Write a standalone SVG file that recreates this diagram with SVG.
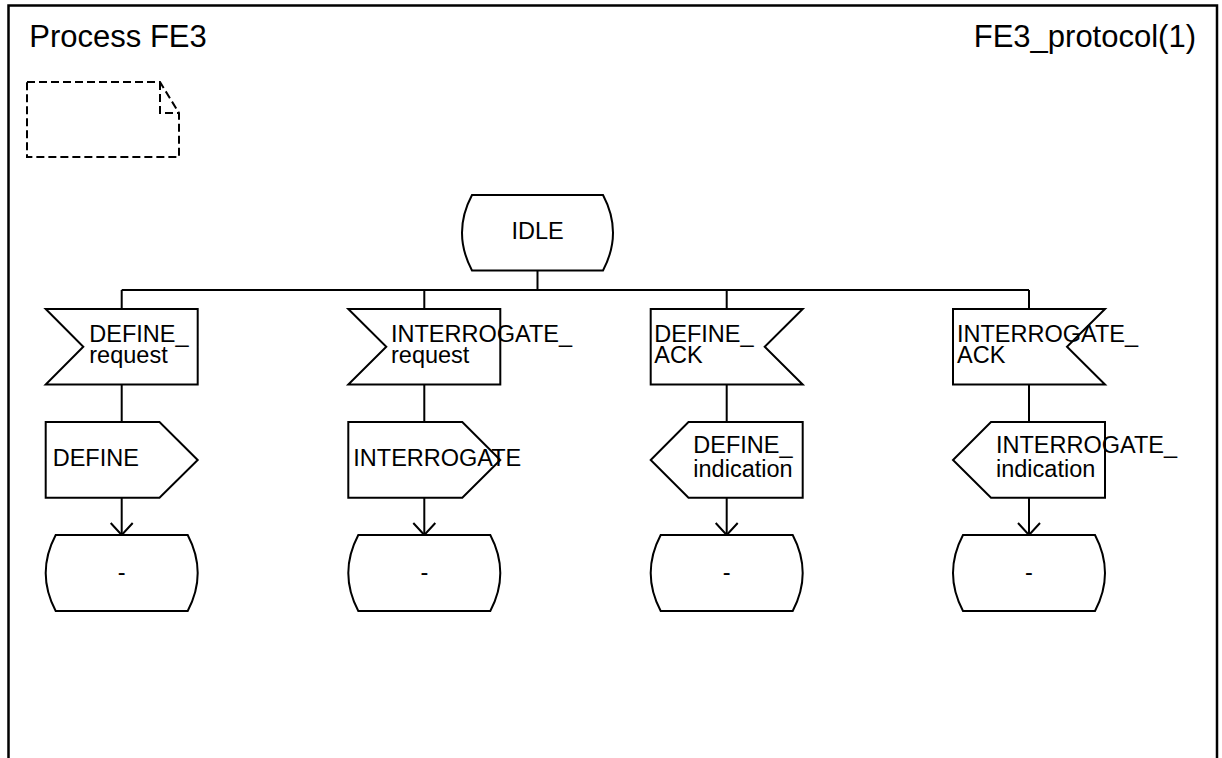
<svg xmlns="http://www.w3.org/2000/svg" width="1222" height="758" viewBox="0 0 1222 758">
<style>
  .shape { fill: #fff; stroke: #000; stroke-width: 2; stroke-linejoin: miter; }
  .line { fill: none; stroke: #000; stroke-width: 2; }
  .frame { fill: none; stroke: #000; stroke-width: 2.5; }
  .comment { fill: none; stroke: #000; stroke-width: 2; stroke-dasharray: 8 4; }
  text { font-family: "Liberation Sans", Arial, sans-serif; font-size: 23.5px; fill: #000; }
  .title { font-size: 31px; }
  .mid { text-anchor: middle; }
</style>
<defs>
  <marker id="arrow" markerWidth="30" markerHeight="30" refX="15" refY="15" markerUnits="userSpaceOnUse" orient="auto">
    <path d="M3,4 L15,15 L3,26" fill="none" stroke="#000" stroke-width="2"/>
  </marker>
</defs>
<rect x="0" y="0" width="1222" height="758" fill="#fff"/>

<g id="frame">
  <path class="frame" d="M8.5,760 V5.5 H1217 V760"/>
  <text class="title" x="29.3" y="46.7">Process FE3</text>
  <text class="title" x="1196" y="47" text-anchor="end">FE3_protocol(1)</text>
</g>

<g id="comment">
  <path class="comment" d="M27,82 H160 L179,113 V157 H27 Z"/>
  <path class="comment" d="M160,82 V113 H179"/>
</g>

<g id="connectors">
  <path class="line" d="M537.5,270.5 V290"/>
  <path class="line" d="M121.7,290 H1029"/>
  <path class="line" d="M121.7,290 V309 M121.7,384.5 V422"/>
  <path class="line" d="M424.3,290 V309 M424.3,384.5 V422"/>
  <path class="line" d="M726.7,290 V309 M726.7,384.5 V422"/>
  <path class="line" d="M1029,290 V309 M1029,384.5 V422"/>
  <path class="line" d="M121.7,497.7 V535" marker-end="url(#arrow)"/>
  <path class="line" d="M424.3,497.7 V535" marker-end="url(#arrow)"/>
  <path class="line" d="M726.7,497.7 V535" marker-end="url(#arrow)"/>
  <path class="line" d="M1029,497.7 V535" marker-end="url(#arrow)"/>
</g>

<g id="idle">
  <path class="shape" d="M472,195 H603 Q623,232.7 603,270.5 H472 Q452,232.7 472,195 Z"/>
  <text class="mid" x="537.5" y="238.5">IDLE</text>
</g>

<g id="in_define_request">
  <path class="shape" d="M45.7,309 H197.7 V384.5 H45.7 L83.3,346.7 Z"/>
  <text x="89.3" y="341.5">DEFINE_</text>
  <text x="89.3" y="362.5">request</text>
</g>
<g id="in_interrogate_request">
  <path class="shape" d="M348.3,309 H500.3 V384.5 H348.3 L386.3,346.7 Z"/>
  <text x="391" y="341.5">INTERROGATE_</text>
  <text x="391" y="362.5">request</text>
</g>
<g id="in_define_ack">
  <path class="shape" d="M650.7,309 H802.7 L764.7,346.7 L802.7,384.5 H650.7 Z"/>
  <text x="654.3" y="341.5">DEFINE_</text>
  <text x="654.3" y="362.5">ACK</text>
</g>
<g id="in_interrogate_ack">
  <path class="shape" d="M953,309 H1105 L1067,346.7 L1105,384.5 H953 Z"/>
  <text x="957" y="341.5">INTERROGATE_</text>
  <text x="957" y="362.5">ACK</text>
</g>

<g id="out_define">
  <path class="shape" d="M45.7,422 H159.5 L197.7,460 L159.5,497.7 H45.7 Z"/>
  <text x="52.7" y="466">DEFINE</text>
</g>
<g id="out_interrogate">
  <path class="shape" d="M348.3,422 H462.3 L500.3,460 L462.3,497.7 H348.3 Z"/>
  <text x="353.3" y="466">INTERROGATE</text>
</g>
<g id="out_define_indication">
  <path class="shape" d="M688.5,422 H802.7 V497.7 H688.5 L650.7,460 Z"/>
  <text x="693.3" y="452.7">DEFINE_</text>
  <text x="693.3" y="476.7">indication</text>
</g>
<g id="out_interrogate_indication">
  <path class="shape" d="M991,422 H1105 V497.7 H991 L953,460 Z"/>
  <text x="996" y="452.7">INTERROGATE_</text>
  <text x="996" y="476.7">indication</text>
</g>

<g id="state_1">
  <path class="shape" d="M55.7,535 H187.7 Q207.7,573 187.7,611 H55.7 Q35.7,573 55.7,535 Z"/>
  <text class="mid" x="121.7" y="580">-</text>
</g>
<g id="state_2">
  <path class="shape" d="M358.3,535 H490.3 Q510.3,573 490.3,611 H358.3 Q338.3,573 358.3,535 Z"/>
  <text class="mid" x="424.3" y="580">-</text>
</g>
<g id="state_3">
  <path class="shape" d="M660.7,535 H792.7 Q812.7,573 792.7,611 H660.7 Q640.7,573 660.7,535 Z"/>
  <text class="mid" x="726.7" y="580">-</text>
</g>
<g id="state_4">
  <path class="shape" d="M963,535 H1095 Q1115,573 1095,611 H963 Q943,573 963,535 Z"/>
  <text class="mid" x="1029" y="580">-</text>
</g>
</svg>
